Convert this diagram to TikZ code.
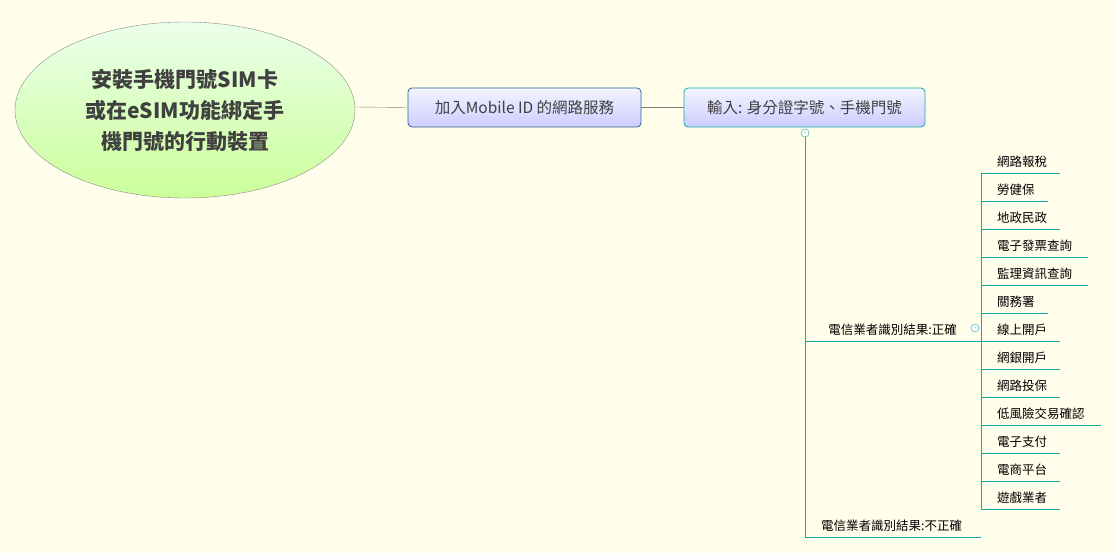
\documentclass[tikz,border=0pt]{standalone}
\usepackage{fontspec}
\usetikzlibrary{shapes.geometric}
\setmainfont{Noto Sans CJK TC}
\definecolor{bx}{RGB}{40,100,150}
\definecolor{tl}{RGB}{20,170,160}
\begin{document}
\begin{tikzpicture}[x=1pt,y=-1pt,
 ln/.style={draw=tl, line width=0.9pt},
 leaf/.style={anchor=south west, inner sep=1pt, font=\fontsize{12.5}{14}\selectfont},
 box/.style={draw, rounded corners=4pt, minimum height=39pt, line width=0.8pt,
   font=\fontsize{15.5}{18}\selectfont, text=black!75, top color=blue!4, bottom color=blue!20}]
\fill[yellow!8!white] (0,0) rectangle (1118,553);
\useasboundingbox (0,0) rectangle (1118,553);
\node[ellipse, draw=black!45, minimum width=340pt, minimum height=176pt, top color=green!8, bottom color=green!35!lime!40, align=center,
  font=\bfseries\fontsize{21}{31}\selectfont, text=black!75] (c) at (185,110) {安裝手機門號SIM卡\\或在eSIM功能綁定手\\機門號的行動裝置};
\node[box, draw=bx, minimum width=233pt] (b1) at (524.5,107.5) {加入Mobile ID 的網路服務};
\node[box, draw=tl, minimum width=241pt] (b2) at (804.5,107.5) {輸入: 身分證字號、手機門號};
\draw[black!50] (355,107) -- (b1.west);
\draw[black!50] (b1.east) -- (b2.east-|b2.west);
\node[circle, draw=tl, fill=white, inner sep=0, minimum size=8pt] (k1) at (805,133) {};
\node[font=\fontsize{7}{7}\selectfont, text=tl] at (k1) {-};
\coordinate (v1) at (805,537);
\draw[ln] (k1) -- (v1);
\coordinate (r1) at (981,341);
\draw[ln] (805,341) -- (r1);
\draw[ln] (v1) -- (981,537);
\node[leaf, anchor=south east] (ok) at (958,337) {電信業者識別結果:正確};
\node[leaf] (no) at (820,533) {電信業者識別結果:不正確};
\node[circle, draw=tl, fill=white, inner sep=0, minimum size=8pt] (k2) at (975,328) {};
\node[font=\fontsize{7}{7}\selectfont, text=tl] at (k2) {-};
\draw[ln] (981,173) -- (981,509);
\foreach \t/\e [count=\i from 0] in {網路報稅/1060,勞健保/1048,地政民政/1060,電子發票查詢/1088,監理資訊查詢/1088,關務署/1048,線上開戶/1060,網銀開戶/1060,網路投保/1060,低風險交易確認/1101,電子支付/1060,電商平台/1060,遊戲業者/1060}{
  \draw[ln] (981,173+28*\i) -- (\e,173+28*\i);
  \node[leaf] (l\i) at (996,169+28*\i) {\t};
}
\end{tikzpicture}
\end{document}
